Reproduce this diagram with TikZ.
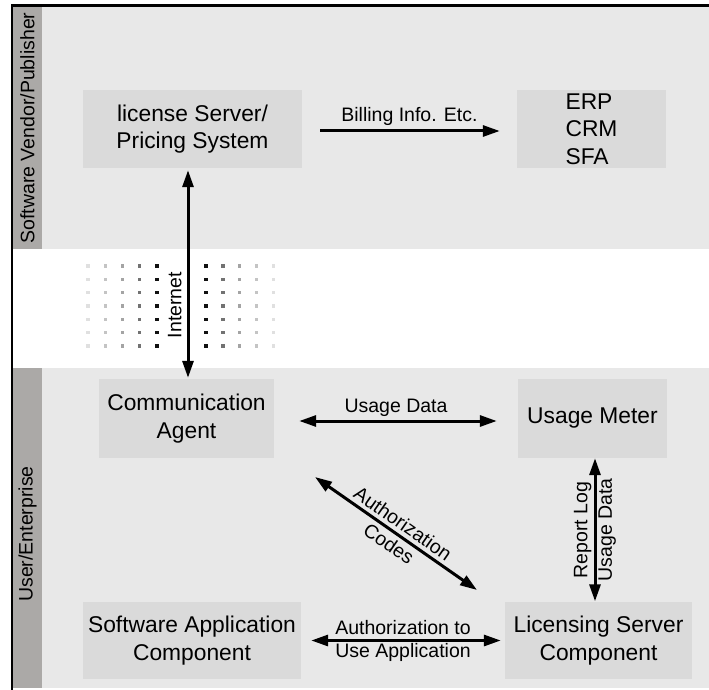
\documentclass[tikz,border=0pt]{standalone}
\usepackage{fontspec}
\setmainfont{Liberation Sans}
\usetikzlibrary{arrows.meta,calc}

\definecolor{panel}{HTML}{E8E8E8}
\definecolor{boxfill}{HTML}{DADADA}
\definecolor{sidebar}{HTML}{ABA9A7}
\definecolor{dotA}{HTML}{E0E0E0}
\definecolor{dotB}{HTML}{C4C4C4}
\definecolor{dotC}{HTML}{A4A4A4}
\definecolor{dotD}{HTML}{727272}
\definecolor{dotE}{HTML}{111111}

\begin{document}
\begin{tikzpicture}[x=1pt,y=-1pt,
  box/.style={fill=boxfill, inner sep=0pt, align=center,
    font=\fontsize{22.8}{27.5}\selectfont},
  lbl/.style={inner sep=0pt, align=center,
    font=\fontsize{19.5}{22}\selectfont},
  widelbl/.style={lbl, font=\fontsize{19.5}{24.5}\selectfont},
  side/.style={inner sep=0pt, rotate=90,
    font=\fontsize{19.5}{22}\selectfont},
  tip/.tip={Triangle[length=17pt,width=11pt]},
  oneway/.style={line width=3pt, -tip},
  twoway/.style={line width=3pt, tip-tip}
]
% canvas
\fill[white] (0,0) rectangle (709,690);
\useasboundingbox (0,0) rectangle (709,690);

% the two swim lanes and their side bars
\fill[panel] (13,7) rectangle (709,249);
\fill[panel] (13,368) rectangle (709,688);
\fill[sidebar] (13,7) rectangle (42,249);
\fill[sidebar] (13,368) rectangle (42,688);
\draw[line width=2.5pt, line join=miter] (11.75,690) -- (11.75,5.5) -- (709,5.5);

\node[side] (vendor) at (27.5,128) {Software Vendor/Publisher};
\node[side] (user) at (27.5,534) {User/Enterprise};

% fading dot grid on both sides of the internet link
\foreach \c [count=\i from 0] in {dotA,dotB,dotC,dotD,dotE} {
  \foreach \r in {0,...,6} {
    \fill[\c] ({88+17.25*\i-1.7},{266+13.33*\r-1.7}) rectangle +(3.4,3.4);
  }
}
\foreach \c [count=\i from 0] in {dotE,dotD,dotC,dotB,dotA} {
  \foreach \r in {0,...,6} {
    \fill[\c] ({206+16.8*\i-1.7},{266+13.33*\r-1.7}) rectangle +(3.4,3.4);
  }
}

% components
\node[box, minimum width=219pt, minimum height=78pt] (lic) at (192.5,129)
  {license Server/\\Pricing System};
\node[box, minimum width=149pt, minimum height=78pt, align=left] (erp) at (591.5,129)
  {\fontsize{22.8}{31}\selectfont ERP\\CRM\\SFA};
\node[box, minimum width=175pt, minimum height=79pt] (agent) at (186.5,418.5)
  {Communication\\Agent};
\node[box, minimum width=149pt, minimum height=79pt] (meter) at (592.5,418.5)
  {Usage Meter};
\node[box, minimum width=218pt, minimum height=77pt] (app) at (192,640.5)
  {Software Application\\Component};
\node[box, minimum width=187pt, minimum height=77pt] (lsc) at (598.5,640.5)
  {Licensing Server\\Component};

\coordinate (codesA) at (315,477);
\coordinate (codesB) at (477,590);

% connectors
\draw[oneway, shorten <=18pt, shorten >=17pt]
  ([yshift=-2pt]lic.east) -- ([yshift=-2pt]erp.west)
  node[lbl, midway, anchor=base, yshift=9pt] (billing) {Billing Info. Etc.};

\draw[twoway, shorten <=1pt, shorten >=2pt]
  ([xshift=1.5pt]agent.north) -- ([xshift=1.5pt]agent.north |- lic.south)
  node[lbl, sloped, pos=0.35, above=5pt] (internet) {Internet};

\draw[twoway, shorten <=25pt, shorten >=21pt]
  ([yshift=-2.5pt]agent.east) -- ([yshift=-2.5pt]meter.west)
  node[lbl, midway, anchor=base, yshift=8.5pt] (usage) {Usage Data};

\draw[twoway] (codesA) -- (codesB)
  node[widelbl, midway, sloped] (codes) {Authorization\\Codes};

\draw[twoway, shorten <=0.5pt]
  ([xshift=2.5pt]lsc.north -| meter.south) -- ([xshift=2.5pt]meter.south)
  node[widelbl, midway, sloped] (report) {Report Log\\Usage Data};

\draw[twoway, shorten <=10pt, shorten >=4pt]
  (app.east) -- (lsc.west)
  node[lbl, midway, font=\fontsize{19.5}{23}\selectfont] (authuse)
  {Authorization to\\Use Application};
\end{tikzpicture}
\end{document}
